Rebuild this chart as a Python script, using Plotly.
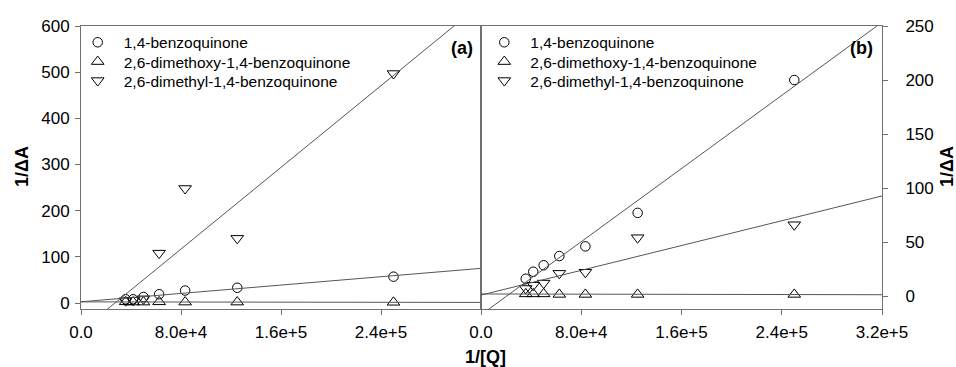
import numpy as np
import plotly.graph_objects as go

# ---- data ----
inv_q = [35700, 41700, 50000, 62500, 83300, 125000, 250000]

# panel (a)
a_bq = [8, 8, 13, 19, 27, 33, 57]
a_dmo = [2.5, 2, 2, 2.5, 2, 2, 1.5]
a_dm = [5, 6, 9, 108, 248, 140, 497]

# panel (b)
b_bq = [16, 22.5, 28.5, 37, 46, 77, 200]
b_dmo = [2, 2, 2, 1.5, 1.5, 1.5, 1.5]
b_dm = [7, 10, 12, 21, 22, 54, 66]

names = ["1,4-benzoquinone", "2,6-dimethoxy-1,4-benzoquinone", "2,6-dimethyl-1,4-benzoquinone"]
symbols = ["circle-open", "triangle-up-open", "triangle-down-open"]
sizes = [9.5, 11, 11]

x_ticks_a = [0, 80000, 160000, 240000]
x_text_a = ["0.0", "8.0e+4", "1.6e+5", "2.4e+5"]
x_ticks_b = [0, 80000, 160000, 240000, 320000]
x_text_b = ["0.0", "8.0e+4", "1.6e+5", "2.4e+5", "3.2e+5"]
y_ticks_a = [0, 100, 200, 300, 400, 500, 600]
y_ticks_b = [0, 50, 100, 150, 200, 250]

X_RANGE = [0, 320000]
FONT = "Liberation Sans, Arial, sans-serif"
AXC = "#707070"
LINEC = "#555555"

# pixel helpers (plot area 81..882 x 26..309)
PW, PH = 801, 283
def px(xp):
    return (xp - 81) / PW
def py(yp):
    return 1 - (yp - 26) / PH

fig = go.Figure()

legend_names = [["legend", "legend2", "legend3"], ["legend4", "legend5", "legend6"]]

def add_panel(series, xa, ya, legs):
    xs = np.array(inv_q, dtype=float)
    for name, sym, sz, ys, lg in zip(names, symbols, sizes, series, legs):
        fig.add_trace(go.Scatter(
            x=inv_q, y=ys, mode="markers", name=name,
            marker=dict(symbol=sym, size=sz, color="black", line=dict(width=1, color="black")),
            xaxis=xa, yaxis=ya, legend=lg, showlegend=True,
            cliponaxis=False,
        ))
    for ys in series:
        k, b = np.polyfit(xs, np.array(ys, dtype=float), 1)
        lx = np.array(X_RANGE, dtype=float)
        fig.add_trace(go.Scatter(
            x=lx, y=k * lx + b, mode="lines",
            line=dict(color=LINEC, width=1),
            xaxis=xa, yaxis=ya, showlegend=False, hoverinfo="skip",
        ))

add_panel([a_bq, a_dmo, a_dm], "x", "y", legend_names[0])
add_panel([b_bq, b_dmo, b_dm], "x2", "y2", legend_names[1])

split = 400 / 801
common_ax = dict(showline=True, linecolor=AXC, linewidth=1, mirror=True,
                 ticks="outside", ticklen=5, tickcolor=AXC, tickwidth=1,
                 showgrid=False, zeroline=False,
                 tickfont=dict(family=FONT, size=17, color="black"))

layout_legends = {}
row_centers = [41.7, 61, 80]
for panel, lx in enumerate([71.7, 478.3]):
    for i, yc in enumerate(row_centers):
        layout_legends[legend_names[panel][i]] = dict(
            x=px(lx), y=py(yc - 16), xanchor="left", yanchor="top",
            bgcolor="rgba(0,0,0,0)", itemwidth=42,
            font=dict(family=FONT, size=15.5, color="black"))

fig.update_layout(
    width=956, height=367,
    margin=dict(l=81, r=74, t=26, b=58),
    paper_bgcolor="white", plot_bgcolor="white",
    font=dict(family=FONT, color="black"),
    xaxis=dict(domain=[0, split], range=X_RANGE, tickvals=x_ticks_a, ticktext=x_text_a,
               anchor="y", ticklabelstandoff=3, **common_ax),
    yaxis=dict(domain=[0, 1], range=[-13, 600], tickvals=y_ticks_a, anchor="x",
               ticklabelstandoff=2, **common_ax),
    xaxis2=dict(domain=[split, 1], range=X_RANGE, tickvals=x_ticks_b, ticktext=x_text_b,
                anchor="y2", ticklabelstandoff=3, **common_ax),
    yaxis2=dict(domain=[0, 1], range=[-12, 250], tickvals=y_ticks_b, anchor="x2",
                side="right", ticklabelstandoff=14, **common_ax),
    showlegend=True,
    **layout_legends,
)

def ann(text, x, y, size, angle=0):
    fig.add_annotation(text=text, x=x, y=y, xref="paper", yref="paper",
                       xanchor="center", yanchor="middle", showarrow=False,
                       textangle=angle, font=dict(family=FONT, size=size, color="black"))

ann("<b>1/ΔA</b>", px(22), py(167), 18, -90)
ann("<b>1/ΔA</b>", px(947), py(167), 18, -90)
ann("<b>1/[Q]</b>", px(485), py(357), 18)
ann("<b>(a)</b>", px(461.5), py(48), 18)
ann("<b>(b)</b>", px(861.5), py(48), 18)

fig.write_html("out.html", config={"displayModeBar": False},
               post_script="document.body.style.margin='0';")
